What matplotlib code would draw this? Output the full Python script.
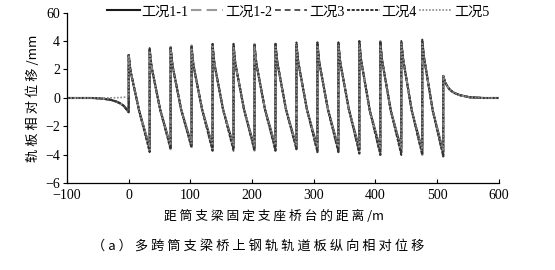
import matplotlib.pyplot as plt
import numpy as np

# ---- data ----
# pier positions along the bridge (m), 15 spans
piers = [0, 34, 68, 102, 136, 170, 204, 238, 272, 306, 340, 374, 408, 442, 476, 510]
knee_offset = 3.0   # m after each pier
mid_offset = 17.0   # m after each pier

# approach embankment before the bridge
approach_x = [-100, -60, -45, -30, -20, -14, -8, -3, 0]
approach_y = [0.0, 0.0, -0.03, -0.12, -0.25, -0.37, -0.55, -0.82, -1.0]
approach_y5 = [0.0, 0.0, 0.0, 0.01, 0.02, 0.03, 0.05, 0.07, 0.1]

# exit embankment after the bridge
exit_x = [510, 513, 517, 521, 528, 537, 553, 575, 610]
exit_y = [1.55, 1.1, 0.8, 0.56, 0.35, 0.2, 0.05, 0.0, 0.0]

# shared values inside the spans
knees = [1.9, 2.2, 2.3, 2.3, 2.4, 2.4, 2.4, 2.5, 2.5, 2.5, 2.5, 2.6, 2.6, 2.7, 2.8]
mids = [-0.9, -0.8, -0.8, -0.8, -0.8, -0.8, -0.8, -0.8, -0.8, -0.8, -0.8, -0.9, -0.9, -0.9, -0.9]

# peaks (just after each pier) and troughs (just before next pier) per case
peaks_11 = [3.0, 3.4, 3.5, 3.6, 3.6, 3.6, 3.7, 3.7, 3.7, 3.7, 3.8, 3.8, 3.8, 3.8, 3.8]
peaks_12 = [3.1, 3.5, 3.6, 3.7, 3.8, 3.8, 3.8, 3.8, 3.8, 3.9, 3.9, 4.0, 4.0, 4.0, 4.0]
peaks_3 = [3.0, 3.4, 3.5, 3.6, 3.7, 3.7, 3.7, 3.8, 3.8, 3.8, 3.8, 3.9, 3.9, 3.9, 3.9]
peaks_4 = [3.1, 3.5, 3.6, 3.6, 3.8, 3.8, 3.8, 3.8, 3.9, 3.9, 3.9, 4.0, 4.0, 4.0, 4.1]
peaks_5 = [3.0, 3.3, 3.4, 3.5, 3.6, 3.6, 3.6, 3.6, 3.7, 3.7, 3.7, 3.7, 3.7, 3.8, 3.8]

troughs_11 = [-3.5, -3.4, -3.3, -3.4, -3.4, -3.5, -3.4, -3.4, -3.5, -3.5, -3.6, -3.6, -3.6, -3.7, -3.8]
troughs_12 = [-3.7, -3.6, -3.5, -3.7, -3.6, -3.7, -3.7, -3.6, -3.8, -3.8, -3.9, -4.0, -3.9, -4.0, -4.1]
troughs_3 = [-3.6, -3.5, -3.4, -3.6, -3.5, -3.6, -3.6, -3.5, -3.7, -3.7, -3.8, -3.8, -3.8, -3.9, -4.0]
troughs_4 = [-3.8, -3.6, -3.5, -3.7, -3.7, -3.7, -3.7, -3.6, -3.8, -3.8, -3.9, -4.0, -4.0, -4.0, -4.1]
troughs_5 = [-3.4, -3.3, -3.2, -3.3, -3.3, -3.4, -3.3, -3.3, -3.4, -3.4, -3.5, -3.5, -3.5, -3.6, -3.7]

labels = ["工况1-1", "工况1-2", "工况3", "工况4", "工况5"]
xticks = [-100, 0, 100, 200, 300, 400, 500, 600]
yticks = [-6, -4, -2, 0, 2, 4, 6]
ytick_labels = ["−6", "−4", "−2", "0", "2", "4", "60"]


def build(peaks, troughs, app_y):
    """Assemble the sawtooth curve of one case from the span values."""
    x = list(approach_x)
    y = list(app_y)
    for i in range(len(piers) - 1):
        s = piers[i]
        x += [s, s + knee_offset, s + mid_offset, piers[i + 1]]
        y += [peaks[i], knees[i], mids[i], troughs[i]]
    x += exit_x
    y += exit_y
    return x, y


cases = [
    (peaks_11, troughs_11, approach_y),
    (peaks_12, troughs_12, approach_y),
    (peaks_3, troughs_3, approach_y),
    (peaks_4, troughs_4, approach_y),
    (peaks_5, troughs_5, approach_y5),
]
styles = [
    dict(color="#1a1a1a", lw=1.5, ls="-"),
    dict(color="#9a9a9a", lw=1.5, ls=(0, (5, 2.5))),
    dict(color="#555555", lw=1.4, ls=(0, (3, 2))),
    dict(color="#333333", lw=1.4, ls=(0, (1.6, 0.8))),
    dict(color="#8a8a8a", lw=1.2, ls=(0, (1, 1))),
]

serif = ["Liberation Serif", "Noto Sans CJK SC"]
cjk = ["Noto Sans CJK SC", "Liberation Serif"]

fig = plt.figure(figsize=(5.55, 2.7), dpi=100)
ax = fig.add_axes([0.1207, 0.3204, 0.778, 0.6333])

lines = []
for (pk, tr, ay), st, lab in zip(cases, styles, labels):
    x, y = build(pk, tr, ay)
    ln, = ax.plot(x, y, label=lab, **st)
    lines.append(ln)

ax.set_xlim(-100, 600)
ax.set_ylim(-6, 6)
ax.set_xticks(xticks)
ax.set_xticklabels([str(t).replace("-", "−") for t in xticks], family=serif, fontsize=10)
ax.set_yticks(yticks)
ax.set_yticklabels(ytick_labels, family=serif, fontsize=10)
ax.tick_params(axis="x", direction="in", length=3, width=0.8, pad=4)
ax.tick_params(axis="y", direction="out", length=3, width=0.8, pad=2)
ax.spines["top"].set_visible(False)
ax.spines["right"].set_visible(False)
for sp in ["left", "bottom"]:
    ax.spines[sp].set_linewidth(0.9)

ax.set_xlabel(" ".join("距筒支梁固定支座桥台的距离") + " /m", family=cjk, fontsize=9.2, labelpad=3)
ax.xaxis.set_label_coords(0.48, -0.155)
ax.set_ylabel(" ".join("轨板相对位移") + " /mm", family=cjk, fontsize=9.5, labelpad=4)

fig.legend(handles=lines, labels=labels, loc="center", bbox_to_anchor=(298 / 555, 0.956),
           ncol=5, frameon=False, handlelength=2.3, handletextpad=0.15, columnspacing=0.15,
           prop={"family": serif, "size": 10.2}, borderaxespad=0)

fig.text(0.465, 0.086, "（ a ） " + " ".join("多跨筒支梁桥上钢轨轨道板纵向相对位移"),
         family=cjk, fontsize=9.5, ha="center", va="center")

fig.savefig("out.png", dpi=100)
